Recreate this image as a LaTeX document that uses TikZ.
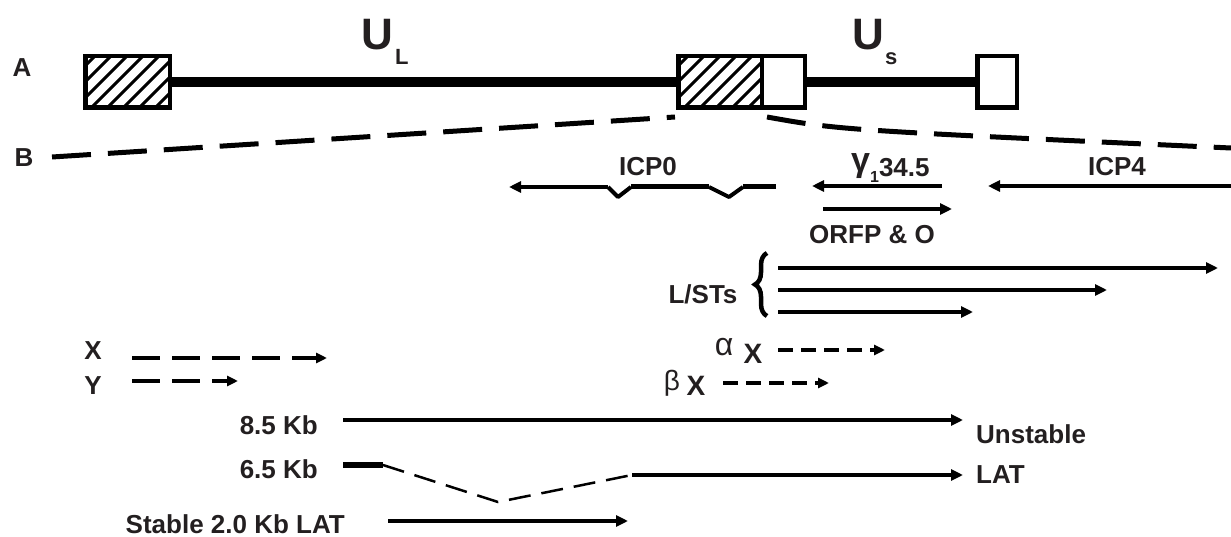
\documentclass[tikz,border=0pt]{standalone}
\usepackage{fontspec}
\setmainfont{Liberation Sans}
\usetikzlibrary{arrows.meta,decorations.pathreplacing}
\definecolor{ink}{RGB}{35,31,32}
\begin{document}
\begin{tikzpicture}[x=1pt,y=-1pt,
  lbl/.style={font=\bfseries\fontsize{26}{28}\selectfont, text=ink, inner sep=0pt, anchor=base},
  biglbl/.style={font=\bfseries\fontsize{44}{46}\selectfont, text=ink, inner sep=0pt, anchor=base},
  sublbl/.style={font=\bfseries\fontsize{22}{24}\selectfont, text=ink, inner sep=0pt, anchor=base west},
  greek/.style={font=\fontsize{#1}{30}\selectfont, text=ink, inner sep=0pt, anchor=base},
  bigx/.style={font=\bfseries\fontsize{28}{30}\selectfont, text=ink, inner sep=0pt, anchor=base},
  gbox/.style={draw=black, line width=4.5pt, minimum width=#1, minimum height=51.5pt, inner sep=0pt, outer sep=0pt},
  spine/.style={line width=10pt},
  hatch/.style={line width=3pt},
  arr/.style={line width=3.5pt, -{Triangle[length=12pt,width=11pt]}},
  bigdash/.style={line width=5pt, dash pattern=on 39pt off 17pt},
  xydash/.style={line width=4pt, dash pattern=on 28pt off 12pt, -{Triangle[length=11pt,width=10pt]}},
  smalldash/.style={line width=3.5pt, dash pattern=on 15pt off 8pt, -{Triangle[length=11pt,width=10pt]}},
  latdash/.style={line width=2.5pt, dash pattern=on 22pt off 11pt},
  bracest/.style={line width=4.5pt, decorate, decoration={brace, amplitude=12pt}}]
\useasboundingbox (0,0) rectangle (1231,537);

% ---------- row A ----------
\node[lbl] (A) at (22,76.5) {A};
\begin{scope}
  \clip (85,57) rectangle (170,107);
  \foreach \i in {0,...,10} \draw[hatch] ({83+\i*16-60},112) -- ++(64,-64);
\end{scope}
\begin{scope}
  \clip (678,57) rectangle (762,107);
  \foreach \i in {0,...,10} \draw[hatch] ({676+\i*16-60},112) -- ++(64,-64);
\end{scope}
\node[gbox=84.5pt] (lbox) at (127.5,82) {};
\node[gbox=83.5pt] (hbox) at (720,82) {};
\node[gbox=43pt] (obox) at (783.25,82) {};
\node[gbox=39.5pt] (rbox) at (997,82) {};
\draw[spine] (lbox.east) -- (hbox.west);
\draw[spine] (obox.east) -- (rbox.west);
\node[biglbl] (UL) at (377,50) {U};
\node[sublbl] (ULsub) at (395,65) {L};
\node[biglbl] (US) at (868,50) {U};
\node[sublbl] (USsub) at (885,65) {s};

% ---------- row B ----------
\node[lbl] (B) at (24,167) {B};
\coordinate (bl0) at (52,157);
\coordinate (bl1) at (675,117);
\coordinate (br0) at (767,117);
\coordinate (brc) at (840,130);
\coordinate (br1) at (1231,148);
\draw[bigdash] (bl0) -- (bl1);
\draw[bigdash] (br0) .. controls (brc) .. (br1);

% ---------- genes ----------
\node[lbl] (icp0) at (648,176) {ICP0};
\node[lbl, anchor=base west] (g345) at (851,177) {\raisebox{5pt}{\fontsize{34}{34}\selectfont γ}\raisebox{-6pt}{\fontsize{16}{16}\selectfont 1}34.5};
\node[lbl] (icp4) at (1117,176) {ICP4};

\coordinate (i0a) at (776,187);
\coordinate (i0b) at (743,187);
\coordinate (i0c) at (729,197);
\coordinate (i0d) at (709,187);
\coordinate (i0e) at (631,187);
\coordinate (i0f) at (618,197);
\coordinate (i0g) at (608,187);
\coordinate (i0h) at (509,187);
\draw[line width=5pt] (i0a) -- (i0b) (i0d) -- (i0e);
\draw[line width=4pt, line join=round] (i0b) -- (i0c) -- (i0d) (i0e) -- (i0f) -- (i0g);
\draw[arr] (i0g) -- (i0h);

\coordinate (g0) at (942,186);
\coordinate (g1) at (812,186);
\draw[arr] (g0) -- (g1);
\coordinate (c40) at (1233,186);
\coordinate (c41) at (988,186);
\draw[arr] (c40) -- (c41);
\coordinate (o0) at (823,209);
\coordinate (o1) at (952,209);
\draw[arr] (o0) -- (o1);
\node[lbl] (orfp) at (872,244) {ORFP \& O};

% ---------- L/STs ----------
\node[lbl] (lst) at (703,304) {L/STs};
\coordinate (br-b) at (767,316);
\coordinate (br-t) at (767,253);
\draw[bracest] (br-b) -- (br-t);
\coordinate (l1a) at (778,268);
\coordinate (l1b) at (1218,268);
\coordinate (l2a) at (778,290);
\coordinate (l2b) at (1107,290);
\coordinate (l3a) at (778,312);
\coordinate (l3b) at (973,312);
\draw[arr] (l1a) -- (l1b);
\draw[arr] (l2a) -- (l2b);
\draw[arr] (l3a) -- (l3b);

% ---------- X / Y ----------
\node[lbl] (X) at (93,359) {X};
\node[lbl] (Y) at (93,394) {Y};
\coordinate (x0) at (132,358);
\coordinate (x1) at (327,358);
\coordinate (y0) at (132,381);
\coordinate (y1) at (238,381);
\draw[xydash] (x0) -- (x1);
\draw[xydash] (y0) -- (y1);

\node[greek=32] (alpha) at (724,355) {α};
\node[bigx] (aX) at (753,363) {X};
\node[greek=28] (beta) at (672,390) {β};
\node[bigx] (bX) at (696,395) {X};
\coordinate (ax0) at (778,350);
\coordinate (ax1) at (885,350);
\coordinate (bx0) at (723,383);
\coordinate (bx1) at (829,383);
\draw[smalldash] (ax0) -- (ax1);
\draw[smalldash] (bx0) -- (bx1);

% ---------- transcripts ----------
\node[lbl, anchor=base east] (k85) at (318,434) {8.5 Kb};
\node[lbl, anchor=base east] (k65) at (318,478) {6.5 Kb};
\node[lbl, anchor=base east] (st) at (345,533) {Stable 2.0 Kb LAT};
\node[lbl, anchor=base west] (unst) at (976,443) {Unstable};
\node[lbl, anchor=base west] (lat) at (976,483) {LAT};

\coordinate (u0) at (343,420);
\coordinate (u1) at (963,420);
\draw[arr] (u0) -- (u1);

\coordinate (s0) at (343,465);
\coordinate (s1) at (383,465);
\coordinate (s2) at (498,502);
\coordinate (s3) at (632,475);
\coordinate (s4) at (963,475);
\draw[line width=6pt] (s0) -- (s1);
\draw[latdash] (s1) -- (s2) -- (s3);
\draw[arr] (s3) -- (s4);

\coordinate (t0) at (388,521);
\coordinate (t1) at (628,521);
\draw[arr] (t0) -- (t1);
\end{tikzpicture}
\end{document}
